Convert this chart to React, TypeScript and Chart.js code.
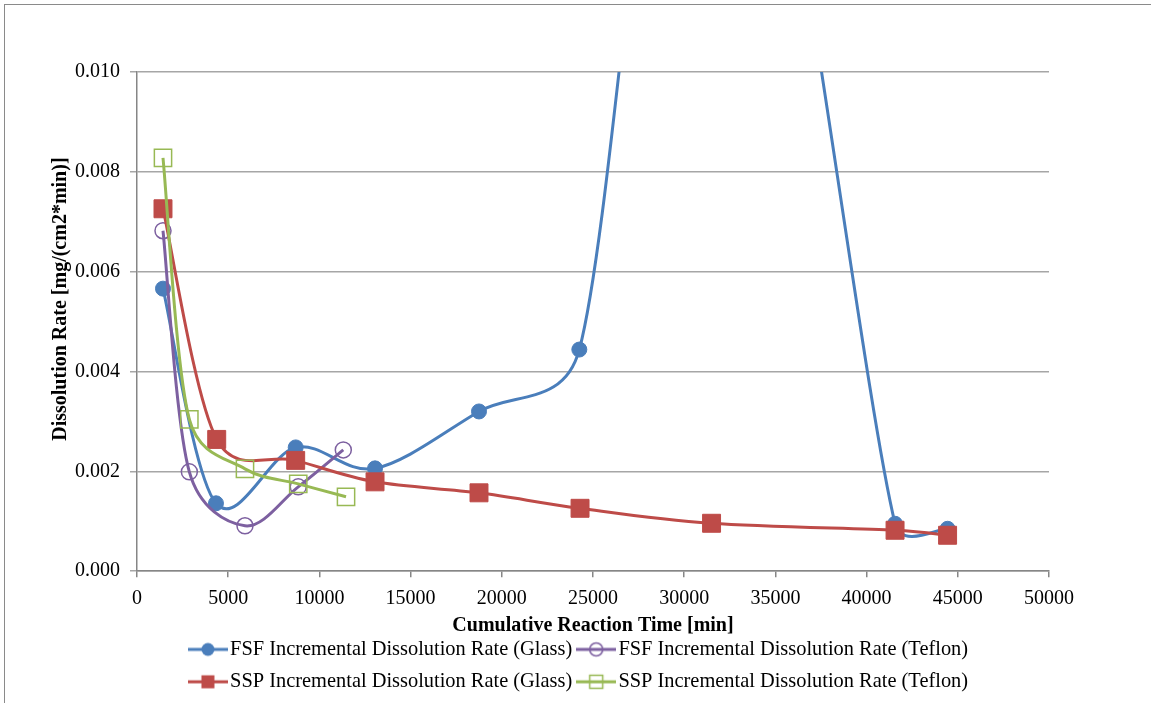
import React, { useEffect, useRef } from 'react';
import { Chart, registerables } from 'chart.js';

Chart.register(...registerables);

// ---- data ----
const fsfGlassX = [1425, 4330, 8700, 13050, 18750, 24250, 31500, 41560, 44440];
const fsfGlassY = [0.00566, 0.00136, 0.00248, 0.00206, 0.0032, 0.00444, 0.0205, 0.00095, 0.00085];
const fsfTeflonX = [1425, 2870, 5920, 8840, 11310];
const fsfTeflonY = [0.00682, 0.00199, 0.00091, 0.00169, 0.00243];
const sspGlassX = [1425, 4370, 8700, 13050, 18750, 24290, 31500, 41560, 44440];
const sspGlassY = [0.00726, 0.00264, 0.00222, 0.00179, 0.00157, 0.00126, 0.00096, 0.00082, 0.00072];
const sspTeflonX = [1425, 2870, 5920, 8840, 11460];
const sspTeflonY = [0.00828, 0.00304, 0.00205, 0.00175, 0.00149];

const seriesLabels = [
  'FSF Incremental Dissolution Rate (Glass)',
  'FSF Incremental Dissolution Rate (Teflon)',
  'SSP Incremental Dissolution Rate (Glass)',
  'SSP Incremental Dissolution Rate (Teflon)',
];
const xTitle = 'Cumulative Reaction Time [min]';
const yTitle = 'Dissolution Rate [mg/(cm2*min)]';
const xMin = 0, xMax = 50000, xStep = 5000;
const yMin = 0, yMax = 0.01, yStep = 0.002;

const BLUE = '#4A7EBB';
const PURPLE = '#7D60A0';
const RED = '#BE4B48';
const GREEN = '#98B954';

const FONT = "'Liberation Serif', 'Times New Roman', serif";

const toXY = (xs: number[], ys: number[]) => xs.map((x, i) => ({ x, y: ys[i] }));

// Legend glyph: line with marker
function legendGlyph(color: string, shape: 'circle' | 'rect', filled: boolean) {
  const c = document.createElement('canvas');
  c.width = 40;
  c.height = 18;
  const g = c.getContext('2d')!;
  g.strokeStyle = color;
  g.lineWidth = 3;
  g.beginPath();
  g.moveTo(0, 9);
  g.lineTo(40, 9);
  g.stroke();
  g.lineWidth = 1.5;
  g.fillStyle = color;
  g.beginPath();
  if (shape === 'circle') {
    g.arc(20, 9, 6.5, 0, Math.PI * 2);
  } else {
    g.rect(13.5, 2.5, 13, 13);
  }
  if (filled) g.fill();
  else g.stroke();
  return c;
}

// Excel-like smoothing of the line through the points (computed from scale pixels)
const excelSmooth = {
  id: 'excelSmooth',
  afterDatasetsUpdate(chart: any) {
    chart.data.datasets.forEach((_: any, di: number) => {
      const meta = chart.getDatasetMeta(di);
      const line: any = meta.dataset;
      const pts: any[] = meta.data;
      if (!line || pts.length < 2) return;
      if (typeof line.updateControlPoints === 'function') line.updateControlPoints(chart.chartArea, 'x');
      const n = pts.length;
      for (let i = 0; i < n; i++) {
        const p = pts[i];
        const prev = pts[Math.max(i - 1, 0)];
        const next = pts[Math.min(i + 1, n - 1)];
        const tx = (next.x - prev.x) / 6;
        const ty = (next.y - prev.y) / 6;
        const tl = Math.hypot(tx, ty);
        const dPrev = i > 0 ? Math.hypot(p.x - prev.x, p.y - prev.y) : 0;
        const dNext = i < n - 1 ? Math.hypot(next.x - p.x, next.y - p.y) : 0;
        const sIn = tl > 0 && tl > dPrev / 2 ? dPrev / 2 / tl : 1;
        const sOut = tl > 0 && tl > dNext / 2 ? dNext / 2 / tl : 1;
        p.cp1x = p.x - tx * sIn;
        p.cp1y = p.y - ty * sIn;
        p.cp2x = p.x + tx * sOut;
        p.cp2y = p.y + ty * sOut;
      }
    });
  },
};

export default function App() {
  const ref = useRef<HTMLCanvasElement | null>(null);

  useEffect(() => {
    if (!ref.current) return;
    Chart.defaults.font.family = FONT;
    const glyphs = [
      legendGlyph(BLUE, 'circle', true),
      legendGlyph(PURPLE, 'circle', false),
      legendGlyph(RED, 'rect', true),
      legendGlyph(GREEN, 'rect', false),
    ];
    const common = {
      borderWidth: 3,
      tension: 0.4,
      fill: false,
      clip: 0,
      showLine: true,
      xAxisID: 'x',
      yAxisID: 'y',
    };
    const chart = new Chart(ref.current, {
      type: 'scatter',
      data: {
        datasets: [
          {
            ...common,
            label: seriesLabels[0],
            data: toXY(fsfGlassX, fsfGlassY),
            borderColor: BLUE,
            backgroundColor: BLUE,
            pointStyle: 'circle',
            pointRadius: 7.5,
            pointBorderWidth: 1,
            order: 4,
          },
          {
            ...common,
            label: seriesLabels[1],
            data: toXY(fsfTeflonX, fsfTeflonY),
            borderColor: PURPLE,
            backgroundColor: 'rgba(255,255,255,0)',
            pointBorderColor: PURPLE,
            pointStyle: 'circle',
            pointRadius: 8,
            pointBorderWidth: 1.5,
            order: 3,
          },
          {
            ...common,
            label: seriesLabels[2],
            data: toXY(sspGlassX, sspGlassY),
            borderColor: RED,
            backgroundColor: RED,
            pointStyle: 'rect',
            pointRadius: 12.7,
            pointBorderWidth: 1,
            order: 2,
          },
          {
            ...common,
            label: seriesLabels[3],
            data: toXY(sspTeflonX, sspTeflonY),
            borderColor: GREEN,
            backgroundColor: 'rgba(255,255,255,0)',
            pointBorderColor: GREEN,
            pointStyle: 'rect',
            pointRadius: 12.2,
            pointBorderWidth: 1.5,
            order: 1,
          },
        ],
      },
      options: {
        animation: false,
        responsive: false,
        devicePixelRatio: 1,
        layout: { padding: { left: 13, right: 0, top: 72, bottom: 1 } },
        plugins: {
          tooltip: { enabled: false },
          legend: {
            position: 'bottom',
            labels: {
              usePointStyle: true,
              pointStyleWidth: 24,
              padding: 12,
              color: '#000',
              font: { size: 20.4, family: FONT },
              generateLabels: (ch: any) =>
                ch.data.datasets.map((ds: any, i: number) => ({
                  text: ds.label,
                  fillStyle: ds.borderColor,
                  strokeStyle: ds.borderColor,
                  lineWidth: 0,
                  pointStyle: glyphs[i],
                  hidden: false,
                  datasetIndex: i,
                  fontColor: '#000',
                })),
            },
          },
        },
        scales: {
          x: {
            type: 'linear',
            position: 'bottom',
            min: xMin,
            max: xMax,
            ticks: {
              stepSize: xStep,
              autoSkip: false,
              maxRotation: 0,
              color: '#000',
              padding: 10,
              font: { size: 20, family: FONT },
              callback: (v: any) => String(v),
            },
            grid: { drawOnChartArea: false, tickLength: 6, color: '#868686', lineWidth: 1.5 },
            border: { color: '#868686', width: 1.5 },
            title: {
              display: true,
              text: xTitle,
              color: '#000',
              font: { size: 20, weight: 'bold', family: FONT },
              padding: { top: 0, bottom: -11 },
            },
            afterFit: (s: any) => {
              s.height = 56;
            },
          },
          y: {
            type: 'linear',
            position: 'left',
            min: yMin,
            max: yMax,
            ticks: {
              stepSize: yStep,
              color: '#000',
              padding: 10,
              font: { size: 20, family: FONT },
              callback: (v: any) => Number(v).toFixed(3),
            },
            grid: { color: '#a6a6a6', lineWidth: 1.5, tickLength: 7 },
            border: { color: '#868686', width: 1.5 },
            title: {
              display: true,
              text: '\u00A0'.repeat(9) + yTitle,
              color: '#000',
              font: { size: 20, weight: 'bold', family: FONT },
              padding: { top: 36, bottom: 0 },
            },
            afterFit: (s: any) => {
              s.width = 124;
            },
          },
          yRightSpace: {
            type: 'linear',
            position: 'right',
            display: true,
            min: 0,
            max: 1,
            ticks: { display: false },
            grid: { display: false },
            border: { display: false },
            afterFit: (s: any) => {
              s.width = 102;
            },
          },
        },
      } as any,
      plugins: [excelSmooth as any],
    });
    return () => chart.destroy();
  }, []);

  return (
    <div style={{ position: 'absolute', left: 0, top: 0, width: 1151, height: 703, background: '#fff', overflow: 'hidden' }}>
      <canvas ref={ref} width={1151} height={703} style={{ position: 'absolute', left: 0, top: 0, width: 1151, height: 703 }} />
      <div
        style={{
          position: 'absolute',
          left: 4,
          top: 4,
          width: 1160,
          height: 710,
          borderTop: '1.5px solid #8a8a8a',
          borderLeft: '1.5px solid #8a8a8a',
          pointerEvents: 'none',
        }}
      />
    </div>
  );
}
